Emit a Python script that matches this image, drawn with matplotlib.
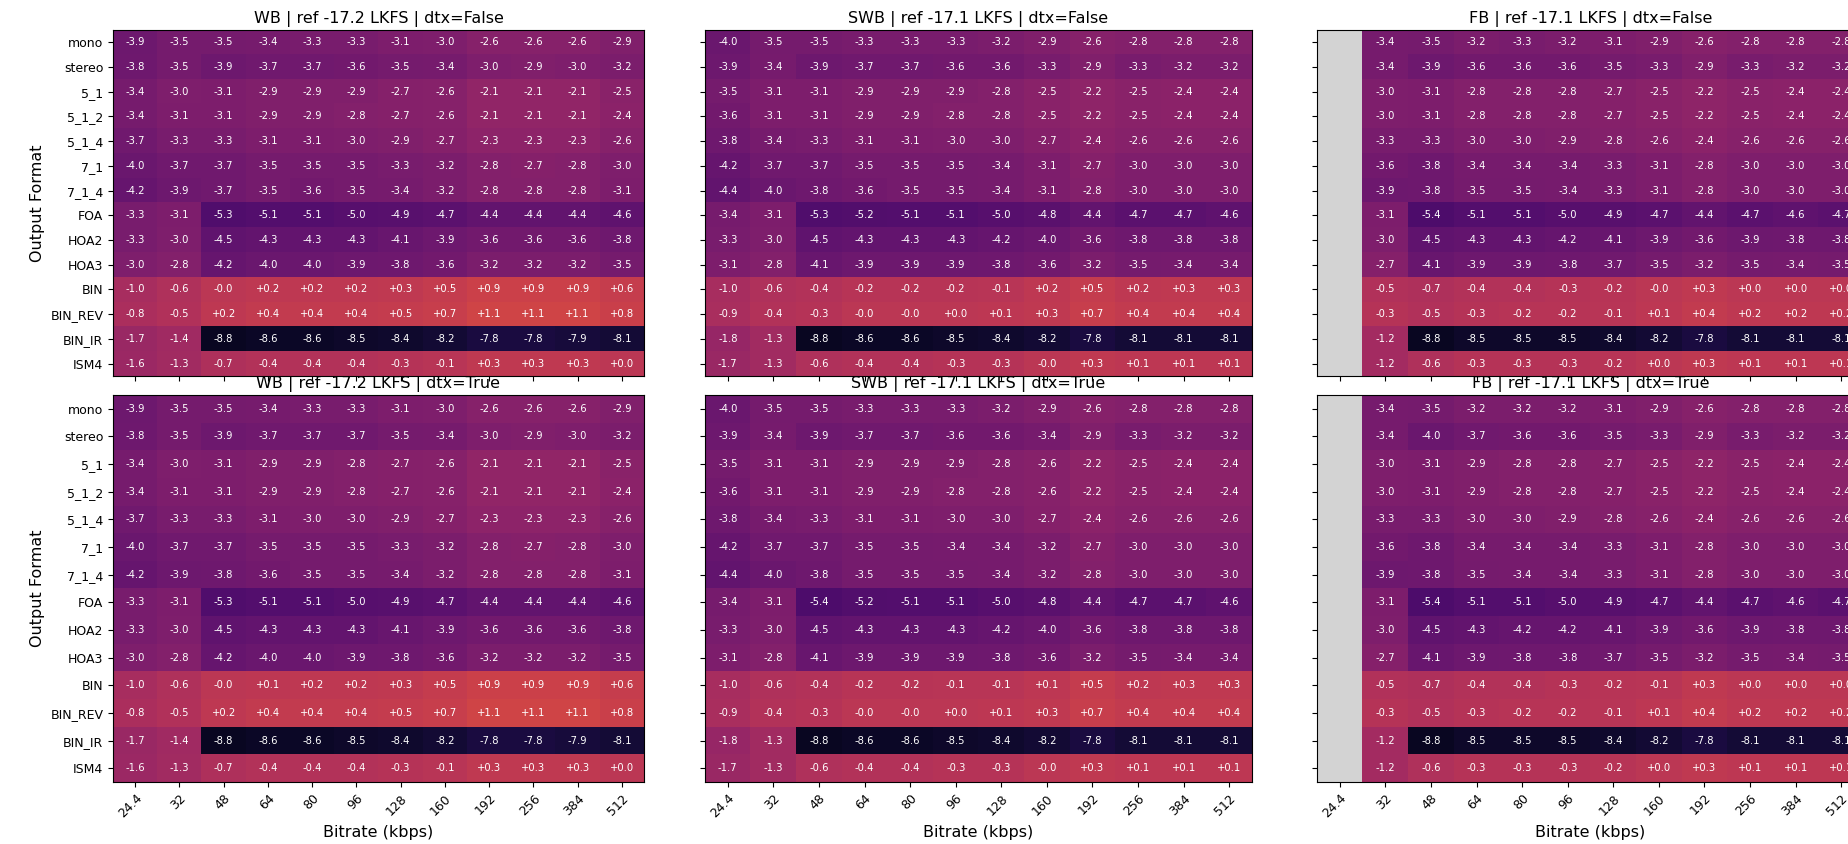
import numpy as np
import matplotlib
matplotlib.use("Agg")
import matplotlib.pyplot as plt
from matplotlib.colors import Normalize

formats = ["mono", "stereo", "5_1", "5_1_2", "5_1_4", "7_1", "7_1_4",
           "FOA", "HOA2", "HOA3", "BIN", "BIN_REV", "BIN_IR", "ISM4"]
bitrates = ["24.4", "32", "48", "64", "80", "96", "128", "160", "192", "256", "384", "512"]
nan = np.nan

wb_dtx_false = [
    [-3.9, -3.5, -3.5, -3.4, -3.3, -3.3, -3.1, -3.0, -2.6, -2.6, -2.6, -2.9],
    [-3.8, -3.5, -3.9, -3.7, -3.7, -3.6, -3.5, -3.4, -3.0, -2.9, -3.0, -3.2],
    [-3.4, -3.0, -3.1, -2.9, -2.9, -2.9, -2.7, -2.6, -2.1, -2.1, -2.1, -2.5],
    [-3.4, -3.1, -3.1, -2.9, -2.9, -2.8, -2.7, -2.6, -2.1, -2.1, -2.1, -2.4],
    [-3.7, -3.3, -3.3, -3.1, -3.1, -3.0, -2.9, -2.7, -2.3, -2.3, -2.3, -2.6],
    [-4.0, -3.7, -3.7, -3.5, -3.5, -3.5, -3.3, -3.2, -2.8, -2.7, -2.8, -3.0],
    [-4.2, -3.9, -3.7, -3.5, -3.6, -3.5, -3.4, -3.2, -2.8, -2.8, -2.8, -3.1],
    [-3.3, -3.1, -5.3, -5.1, -5.1, -5.0, -4.9, -4.7, -4.4, -4.4, -4.4, -4.6],
    [-3.3, -3.0, -4.5, -4.3, -4.3, -4.3, -4.1, -3.9, -3.6, -3.6, -3.6, -3.8],
    [-3.0, -2.8, -4.2, -4.0, -4.0, -3.9, -3.8, -3.6, -3.2, -3.2, -3.2, -3.5],
    [-1.0, -0.6, -0.0, 0.2, 0.2, 0.2, 0.3, 0.5, 0.9, 0.9, 0.9, 0.6],
    [-0.8, -0.5, 0.2, 0.4, 0.4, 0.4, 0.5, 0.7, 1.1, 1.1, 1.1, 0.8],
    [-1.7, -1.4, -8.8, -8.6, -8.6, -8.5, -8.4, -8.2, -7.8, -7.8, -7.9, -8.1],
    [-1.6, -1.3, -0.7, -0.4, -0.4, -0.4, -0.3, -0.1, 0.3, 0.3, 0.3, 0.0],
]

wb_dtx_true = [
    [-3.9, -3.5, -3.5, -3.4, -3.3, -3.3, -3.1, -3.0, -2.6, -2.6, -2.6, -2.9],
    [-3.8, -3.5, -3.9, -3.7, -3.7, -3.7, -3.5, -3.4, -3.0, -2.9, -3.0, -3.2],
    [-3.4, -3.0, -3.1, -2.9, -2.9, -2.8, -2.7, -2.6, -2.1, -2.1, -2.1, -2.5],
    [-3.4, -3.1, -3.1, -2.9, -2.9, -2.8, -2.7, -2.6, -2.1, -2.1, -2.1, -2.4],
    [-3.7, -3.3, -3.3, -3.1, -3.0, -3.0, -2.9, -2.7, -2.3, -2.3, -2.3, -2.6],
    [-4.0, -3.7, -3.7, -3.5, -3.5, -3.5, -3.3, -3.2, -2.8, -2.7, -2.8, -3.0],
    [-4.2, -3.9, -3.8, -3.6, -3.5, -3.5, -3.4, -3.2, -2.8, -2.8, -2.8, -3.1],
    [-3.3, -3.1, -5.3, -5.1, -5.1, -5.0, -4.9, -4.7, -4.4, -4.4, -4.4, -4.6],
    [-3.3, -3.0, -4.5, -4.3, -4.3, -4.3, -4.1, -3.9, -3.6, -3.6, -3.6, -3.8],
    [-3.0, -2.8, -4.2, -4.0, -4.0, -3.9, -3.8, -3.6, -3.2, -3.2, -3.2, -3.5],
    [-1.0, -0.6, -0.0, 0.1, 0.2, 0.2, 0.3, 0.5, 0.9, 0.9, 0.9, 0.6],
    [-0.8, -0.5, 0.2, 0.4, 0.4, 0.4, 0.5, 0.7, 1.1, 1.1, 1.1, 0.8],
    [-1.7, -1.4, -8.8, -8.6, -8.6, -8.5, -8.4, -8.2, -7.8, -7.8, -7.9, -8.1],
    [-1.6, -1.3, -0.7, -0.4, -0.4, -0.4, -0.3, -0.1, 0.3, 0.3, 0.3, 0.0],
]

swb_dtx_false = [
    [-4.0, -3.5, -3.5, -3.3, -3.3, -3.3, -3.2, -2.9, -2.6, -2.8, -2.8, -2.8],
    [-3.9, -3.4, -3.9, -3.7, -3.7, -3.6, -3.6, -3.3, -2.9, -3.3, -3.2, -3.2],
    [-3.5, -3.1, -3.1, -2.9, -2.9, -2.9, -2.8, -2.5, -2.2, -2.5, -2.4, -2.4],
    [-3.6, -3.1, -3.1, -2.9, -2.9, -2.8, -2.8, -2.5, -2.2, -2.5, -2.4, -2.4],
    [-3.8, -3.4, -3.3, -3.1, -3.1, -3.0, -3.0, -2.7, -2.4, -2.6, -2.6, -2.6],
    [-4.2, -3.7, -3.7, -3.5, -3.5, -3.5, -3.4, -3.1, -2.7, -3.0, -3.0, -3.0],
    [-4.4, -4.0, -3.8, -3.6, -3.5, -3.5, -3.4, -3.1, -2.8, -3.0, -3.0, -3.0],
    [-3.4, -3.1, -5.3, -5.2, -5.1, -5.1, -5.0, -4.8, -4.4, -4.7, -4.7, -4.6],
    [-3.3, -3.0, -4.5, -4.3, -4.3, -4.3, -4.2, -4.0, -3.6, -3.8, -3.8, -3.8],
    [-3.1, -2.8, -4.1, -3.9, -3.9, -3.9, -3.8, -3.6, -3.2, -3.5, -3.4, -3.4],
    [-1.0, -0.6, -0.4, -0.2, -0.2, -0.2, -0.1, 0.2, 0.5, 0.2, 0.3, 0.3],
    [-0.9, -0.4, -0.3, -0.0, -0.0, 0.0, 0.1, 0.3, 0.7, 0.4, 0.4, 0.4],
    [-1.8, -1.3, -8.8, -8.6, -8.6, -8.5, -8.4, -8.2, -7.8, -8.1, -8.1, -8.1],
    [-1.7, -1.3, -0.6, -0.4, -0.4, -0.3, -0.3, -0.0, 0.3, 0.1, 0.1, 0.1],
]

swb_dtx_true = [
    [-4.0, -3.5, -3.5, -3.3, -3.3, -3.3, -3.2, -2.9, -2.6, -2.8, -2.8, -2.8],
    [-3.9, -3.4, -3.9, -3.7, -3.7, -3.6, -3.6, -3.4, -2.9, -3.3, -3.2, -3.2],
    [-3.5, -3.1, -3.1, -2.9, -2.9, -2.9, -2.8, -2.6, -2.2, -2.5, -2.4, -2.4],
    [-3.6, -3.1, -3.1, -2.9, -2.9, -2.8, -2.8, -2.6, -2.2, -2.5, -2.4, -2.4],
    [-3.8, -3.4, -3.3, -3.1, -3.1, -3.0, -3.0, -2.7, -2.4, -2.6, -2.6, -2.6],
    [-4.2, -3.7, -3.7, -3.5, -3.5, -3.4, -3.4, -3.2, -2.7, -3.0, -3.0, -3.0],
    [-4.4, -4.0, -3.8, -3.5, -3.5, -3.5, -3.4, -3.2, -2.8, -3.0, -3.0, -3.0],
    [-3.4, -3.1, -5.4, -5.2, -5.1, -5.1, -5.0, -4.8, -4.4, -4.7, -4.7, -4.6],
    [-3.3, -3.0, -4.5, -4.3, -4.3, -4.3, -4.2, -4.0, -3.6, -3.8, -3.8, -3.8],
    [-3.1, -2.8, -4.1, -3.9, -3.9, -3.9, -3.8, -3.6, -3.2, -3.5, -3.4, -3.4],
    [-1.0, -0.6, -0.4, -0.2, -0.2, -0.1, -0.1, 0.1, 0.5, 0.2, 0.3, 0.3],
    [-0.9, -0.4, -0.3, -0.0, -0.0, 0.0, 0.1, 0.3, 0.7, 0.4, 0.4, 0.4],
    [-1.8, -1.3, -8.8, -8.6, -8.6, -8.5, -8.4, -8.2, -7.8, -8.1, -8.1, -8.1],
    [-1.7, -1.3, -0.6, -0.4, -0.4, -0.3, -0.3, -0.0, 0.3, 0.1, 0.1, 0.1],
]

fb_dtx_false = [
    [nan, -3.4, -3.5, -3.2, -3.3, -3.2, -3.1, -2.9, -2.6, -2.8, -2.8, -2.8],
    [nan, -3.4, -3.9, -3.6, -3.6, -3.6, -3.5, -3.3, -2.9, -3.3, -3.2, -3.2],
    [nan, -3.0, -3.1, -2.8, -2.8, -2.8, -2.7, -2.5, -2.2, -2.5, -2.4, -2.4],
    [nan, -3.0, -3.1, -2.8, -2.8, -2.8, -2.7, -2.5, -2.2, -2.5, -2.4, -2.4],
    [nan, -3.3, -3.3, -3.0, -3.0, -2.9, -2.8, -2.6, -2.4, -2.6, -2.6, -2.6],
    [nan, -3.6, -3.8, -3.4, -3.4, -3.4, -3.3, -3.1, -2.8, -3.0, -3.0, -3.0],
    [nan, -3.9, -3.8, -3.5, -3.5, -3.4, -3.3, -3.1, -2.8, -3.0, -3.0, -3.0],
    [nan, -3.1, -5.4, -5.1, -5.1, -5.0, -4.9, -4.7, -4.4, -4.7, -4.6, -4.7],
    [nan, -3.0, -4.5, -4.3, -4.3, -4.2, -4.1, -3.9, -3.6, -3.9, -3.8, -3.8],
    [nan, -2.7, -4.1, -3.9, -3.9, -3.8, -3.7, -3.5, -3.2, -3.5, -3.4, -3.5],
    [nan, -0.5, -0.7, -0.4, -0.4, -0.3, -0.2, -0.0, 0.3, 0.0, 0.0, 0.0],
    [nan, -0.3, -0.5, -0.3, -0.2, -0.2, -0.1, 0.1, 0.4, 0.2, 0.2, 0.2],
    [nan, -1.2, -8.8, -8.5, -8.5, -8.5, -8.4, -8.2, -7.8, -8.1, -8.1, -8.1],
    [nan, -1.2, -0.6, -0.3, -0.3, -0.3, -0.2, 0.0, 0.3, 0.1, 0.1, 0.1],
]

fb_dtx_true = [
    [nan, -3.4, -3.5, -3.2, -3.2, -3.2, -3.1, -2.9, -2.6, -2.8, -2.8, -2.8],
    [nan, -3.4, -4.0, -3.7, -3.6, -3.6, -3.5, -3.3, -2.9, -3.3, -3.2, -3.2],
    [nan, -3.0, -3.1, -2.9, -2.8, -2.8, -2.7, -2.5, -2.2, -2.5, -2.4, -2.4],
    [nan, -3.0, -3.1, -2.9, -2.8, -2.8, -2.7, -2.5, -2.2, -2.5, -2.4, -2.4],
    [nan, -3.3, -3.3, -3.0, -3.0, -2.9, -2.8, -2.6, -2.4, -2.6, -2.6, -2.6],
    [nan, -3.6, -3.8, -3.4, -3.4, -3.4, -3.3, -3.1, -2.8, -3.0, -3.0, -3.0],
    [nan, -3.9, -3.8, -3.5, -3.4, -3.4, -3.3, -3.1, -2.8, -3.0, -3.0, -3.0],
    [nan, -3.1, -5.4, -5.1, -5.1, -5.0, -4.9, -4.7, -4.4, -4.7, -4.6, -4.7],
    [nan, -3.0, -4.5, -4.3, -4.2, -4.2, -4.1, -3.9, -3.6, -3.9, -3.8, -3.8],
    [nan, -2.7, -4.1, -3.9, -3.8, -3.8, -3.7, -3.5, -3.2, -3.5, -3.4, -3.5],
    [nan, -0.5, -0.7, -0.4, -0.4, -0.3, -0.2, -0.1, 0.3, 0.0, 0.0, 0.0],
    [nan, -0.3, -0.5, -0.3, -0.2, -0.2, -0.1, 0.1, 0.4, 0.2, 0.2, 0.2],
    [nan, -1.2, -8.8, -8.5, -8.5, -8.5, -8.4, -8.2, -7.8, -8.1, -8.1, -8.1],
    [nan, -1.2, -0.6, -0.3, -0.3, -0.3, -0.2, 0.0, 0.3, 0.1, 0.1, 0.1],
]

titles = [
    ["WB | ref -17.2 LKFS | dtx=False", "SWB | ref -17.1 LKFS | dtx=False", "FB | ref -17.1 LKFS | dtx=False"],
    ["WB | ref -17.2 LKFS | dtx=True", "SWB | ref -17.1 LKFS | dtx=True", "FB | ref -17.1 LKFS | dtx=True"],
]
panels = [[wb_dtx_false, swb_dtx_false, fb_dtx_false],
          [wb_dtx_true, swb_dtx_true, fb_dtx_true]]

W, H = 1849, 844
fig = plt.figure(figsize=(W / 100, H / 100), dpi=100)

# pixel boxes: (left, right) per column, (top, bottom) per row
col_px = [(113, 644), (705, 1252), (1317, 1864)]
row_px = [(30, 376), (395, 782)]

cmap = plt.get_cmap("inferno").copy()
cmap.set_bad("lightgray")
norm = Normalize(vmin=-10, vmax=10)

for r in range(2):
    for c in range(3):
        l, rr = col_px[c]
        t, b = row_px[r]
        ax = fig.add_axes([l / W, 1 - b / H, (rr - l) / W, (b - t) / H])
        data = np.array(panels[r][c], dtype=float)
        ax.imshow(np.ma.masked_invalid(data), cmap=cmap, norm=norm,
                  aspect="auto", interpolation="nearest")
        for i in range(data.shape[0]):
            for j in range(data.shape[1]):
                v = data[i, j]
                if np.isfinite(v):
                    ax.text(j, i, format(v, "+.1f"), ha="center", va="center",
                            color="white", fontsize=7.2)
        ax.set_xticks(range(len(bitrates)))
        ax.set_yticks(range(len(formats)))
        if r == 1:
            ax.set_xticklabels(bitrates, rotation=45, ha="right",
                               rotation_mode="anchor", fontsize=9)
            ax.set_xlabel("Bitrate (kbps)", fontsize=11.5, labelpad=3)
        else:
            ax.set_xticklabels([])
        if c == 0:
            ax.set_yticklabels(formats, fontsize=9)
            ax.set_ylabel("Output Format", fontsize=11.5)
        else:
            ax.set_yticklabels([])
        ax.set_title(titles[r][c], fontsize=11.5, pad=5)

fig.savefig("out.png", dpi=100)
